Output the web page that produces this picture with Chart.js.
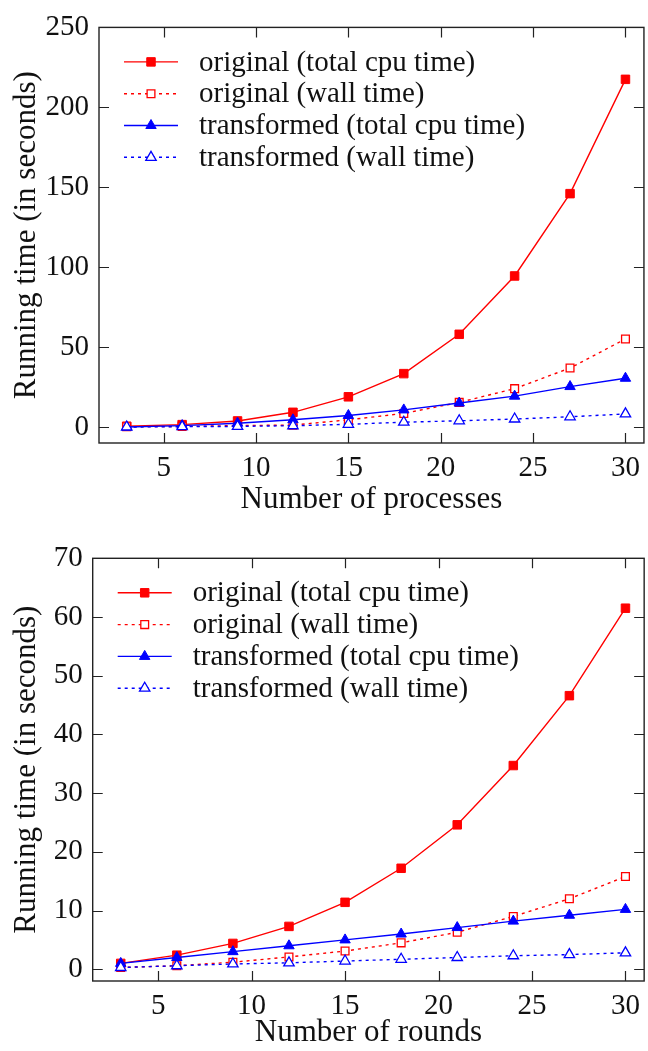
<!DOCTYPE html>
<html>
<head>
<meta charset="utf-8">
<script src="https://cdn.jsdelivr.net/npm/chart.js@4/dist/chart.umd.min.js"></script>
<style>
  html, body { margin: 0; padding: 0; background: #fff; }
  body { width: 648px; height: 1051px; position: relative; overflow: hidden; }
  .box { position: absolute; left: 0; width: 648px; }
</style>
</head>
<body>
<div class="box" style="top:0;height:520px"><canvas id="c1" width="648" height="520"></canvas></div>
<div class="box" style="top:520px;height:531px"><canvas id="c2" width="648" height="531"></canvas></div>
<script>
// ---- data ----
const xValues = [3, 6, 9, 12, 15, 18, 21, 24, 27, 30];
const xTicks = [5, 10, 15, 20, 25, 30];
const seriesNames = ["original (total cpu time)", "original (wall time)", "transformed (total cpu time)", "transformed (wall time)"];

// top chart: Number of processes
const procOrigCpu   = [0.5, 1.5, 3.8, 9.2, 18.9, 33.4, 58.0, 94.5, 146.0, 217.5];
const procOrigWall  = [0.2, 0.3, 0.9, 1.2, 4.5, 8.5, 15.4, 24.0, 36.9, 55.1];
const procTransCpu  = [0.0, 0.9, 2.4, 4.5, 7.2, 10.7, 15.0, 19.3, 25.3, 30.5];
const procTransWall = [0.0, 0.2, 0.4, 0.8, 1.7, 3.0, 3.9, 5.0, 6.4, 8.2];
const procYTicks = [0, 50, 100, 150, 200, 250];

// bottom chart: Number of rounds
const roundOrigCpu   = [1.0, 2.4, 4.4, 7.3, 11.4, 17.2, 24.6, 34.7, 46.6, 61.5];
const roundOrigWall  = [0.3, 0.6, 1.2, 2.1, 3.1, 4.5, 6.3, 9.0, 12.0, 15.8];
const roundTransCpu  = [1.0, 2.0, 3.0, 4.0, 5.0, 6.0, 7.1, 8.2, 9.2, 10.2];
const roundTransWall = [0.3, 0.6, 0.9, 1.1, 1.4, 1.7, 2.0, 2.3, 2.5, 2.8];
const roundYTicks = [0, 10, 20, 30, 40, 50, 60, 70];

const FONT = "'Liberation Serif', 'Times New Roman', serif";
const RED = '#ff0000', BLUE = '#0000ff';

const styles = [
  { color: RED,  dash: [],     shape: 'rect',     radius: 6,   fill: RED,    bw: 1 },
  { color: RED,  dash: [3, 4], shape: 'rect',     radius: 5.5, fill: '#fff', bw: 1.3 },
  { color: BLUE, dash: [],     shape: 'triangle', radius: 6,   fill: BLUE,   bw: 1 },
  { color: BLUE, dash: [3, 4], shape: 'triangle', radius: 6,   fill: '#fff', bw: 1.3 }
];

function makeDatasets(arrs) {
  return arrs.map((vals, i) => {
    const s = styles[i];
    return {
      label: seriesNames[i],
      data: xValues.map((x, k) => ({ x: x, y: vals[k] })),
      borderColor: s.color,
      borderWidth: 1.4,
      borderDash: s.dash,
      pointStyle: s.shape,
      pointRadius: s.radius,
      pointHoverRadius: s.radius,
      pointBackgroundColor: s.fill,
      pointBorderColor: s.color,
      pointBorderWidth: s.bw,
      fill: false,
      tension: 0,
      order: 4 - i
    };
  });
}

const framePlugin = {
  id: 'frame',
  afterDatasetsDraw(chart) {
    const ctx = chart.ctx, a = chart.chartArea;
    const xs = chart.scales.x, ys = chart.scales.y;
    ctx.save();
    ctx.strokeStyle = '#222';
    ctx.lineWidth = 1.4;
    ctx.setLineDash([]);
    ctx.strokeRect(a.left, a.top, a.right - a.left, a.bottom - a.top);
    const T = 10;
    ctx.lineWidth = 1.2;
    ctx.beginPath();
    xs.ticks.forEach(t => {
      const px = Math.round(xs.getPixelForValue(t.value)) + 0.5;
      ctx.moveTo(px, a.bottom); ctx.lineTo(px, a.bottom - T);
      ctx.moveTo(px, a.top); ctx.lineTo(px, a.top + T);
    });
    ys.ticks.forEach(t => {
      const py = Math.round(ys.getPixelForValue(t.value)) + 0.5;
      ctx.moveTo(a.left, py); ctx.lineTo(a.left + T, py);
      ctx.moveTo(a.right, py); ctx.lineTo(a.right - T, py);
    });
    ctx.stroke();

    // legend inside plot area
    const L = a.left, top = a.top;
    ctx.font = "29px " + FONT;
    ctx.textBaseline = 'middle';
    ctx.textAlign = 'left';
    chart.data.datasets.forEach((ds, i) => {
      const s = styles[i];
      const y = top + 34.5 + i * 31.8;
      ctx.save();
      ctx.strokeStyle = s.color;
      ctx.lineWidth = 1.4;
      ctx.setLineDash(s.dash);
      ctx.beginPath();
      ctx.moveTo(L + 25, y); ctx.lineTo(L + 79, y);
      ctx.stroke();
      ctx.setLineDash([]);
      ctx.fillStyle = s.fill;
      ctx.lineWidth = s.bw;
      Chart.helpers.drawPoint(ctx, { pointStyle: s.shape, radius: s.radius, rotation: 0, borderWidth: s.bw }, L + 52, y);
      ctx.restore();
      ctx.fillStyle = '#111';
      ctx.fillText(ds.label, L + 100, y + 1);
    });
    ctx.restore();
  }
};

function makeChart(id, arrs, yTicks, yMin, yMax, xTitle, yAxisWidth, xAxisHeight, padTop, xTitlePadBottom) {
  return new Chart(document.getElementById(id), {
    type: 'line',
    data: { datasets: makeDatasets(arrs) },
    options: {
      responsive: false,
      animation: false,
      devicePixelRatio: 1,
      layout: { autoPadding: false, padding: { top: padTop, right: 1, left: 0, bottom: 0 } },
      plugins: { legend: { display: false }, tooltip: { enabled: false } },
      scales: {
        x: {
          type: 'linear', min: 1.5, max: 31,
          afterBuildTicks: s => { s.ticks = xTicks.map(v => ({ value: v })); },
          afterFit: s => { s.height = xAxisHeight; },
          border: { display: false },
          grid: { display: false, drawTicks: false },
          ticks: { color: '#111', font: { family: FONT, size: 29 }, padding: 8, maxRotation: 0 },
          title: { display: true, text: xTitle, color: '#111', font: { family: FONT, size: 31 }, padding: { top: 0, bottom: xTitlePadBottom } }
        },
        y: {
          type: 'linear', min: yMin, max: yMax,
          afterBuildTicks: s => { s.ticks = yTicks.map(v => ({ value: v })); },
          afterFit: s => { s.width = yAxisWidth; },
          border: { display: false },
          grid: { display: false, drawTicks: false },
          ticks: { color: '#111', font: { family: FONT, size: 29 }, padding: 10 },
          title: { display: true, text: 'Running time (in seconds)', color: '#111', font: { family: FONT, size: 31 }, padding: { top: 8, bottom: 0 } }
        }
      }
    },
    plugins: [framePlugin]
  });
}

makeChart('c1', [procOrigCpu, procOrigWall, procTransCpu, procTransWall], procYTicks, -10, 250,
  'Number of processes', 99, 520 - 443, 20, 2);
makeChart('c2', [roundOrigCpu, roundOrigWall, roundTransCpu, roundTransWall], roundYTicks, -2, 70,
  'Number of rounds', 92.7, 531 - 461, 38.3, 0);
</script>
</body>
</html>
